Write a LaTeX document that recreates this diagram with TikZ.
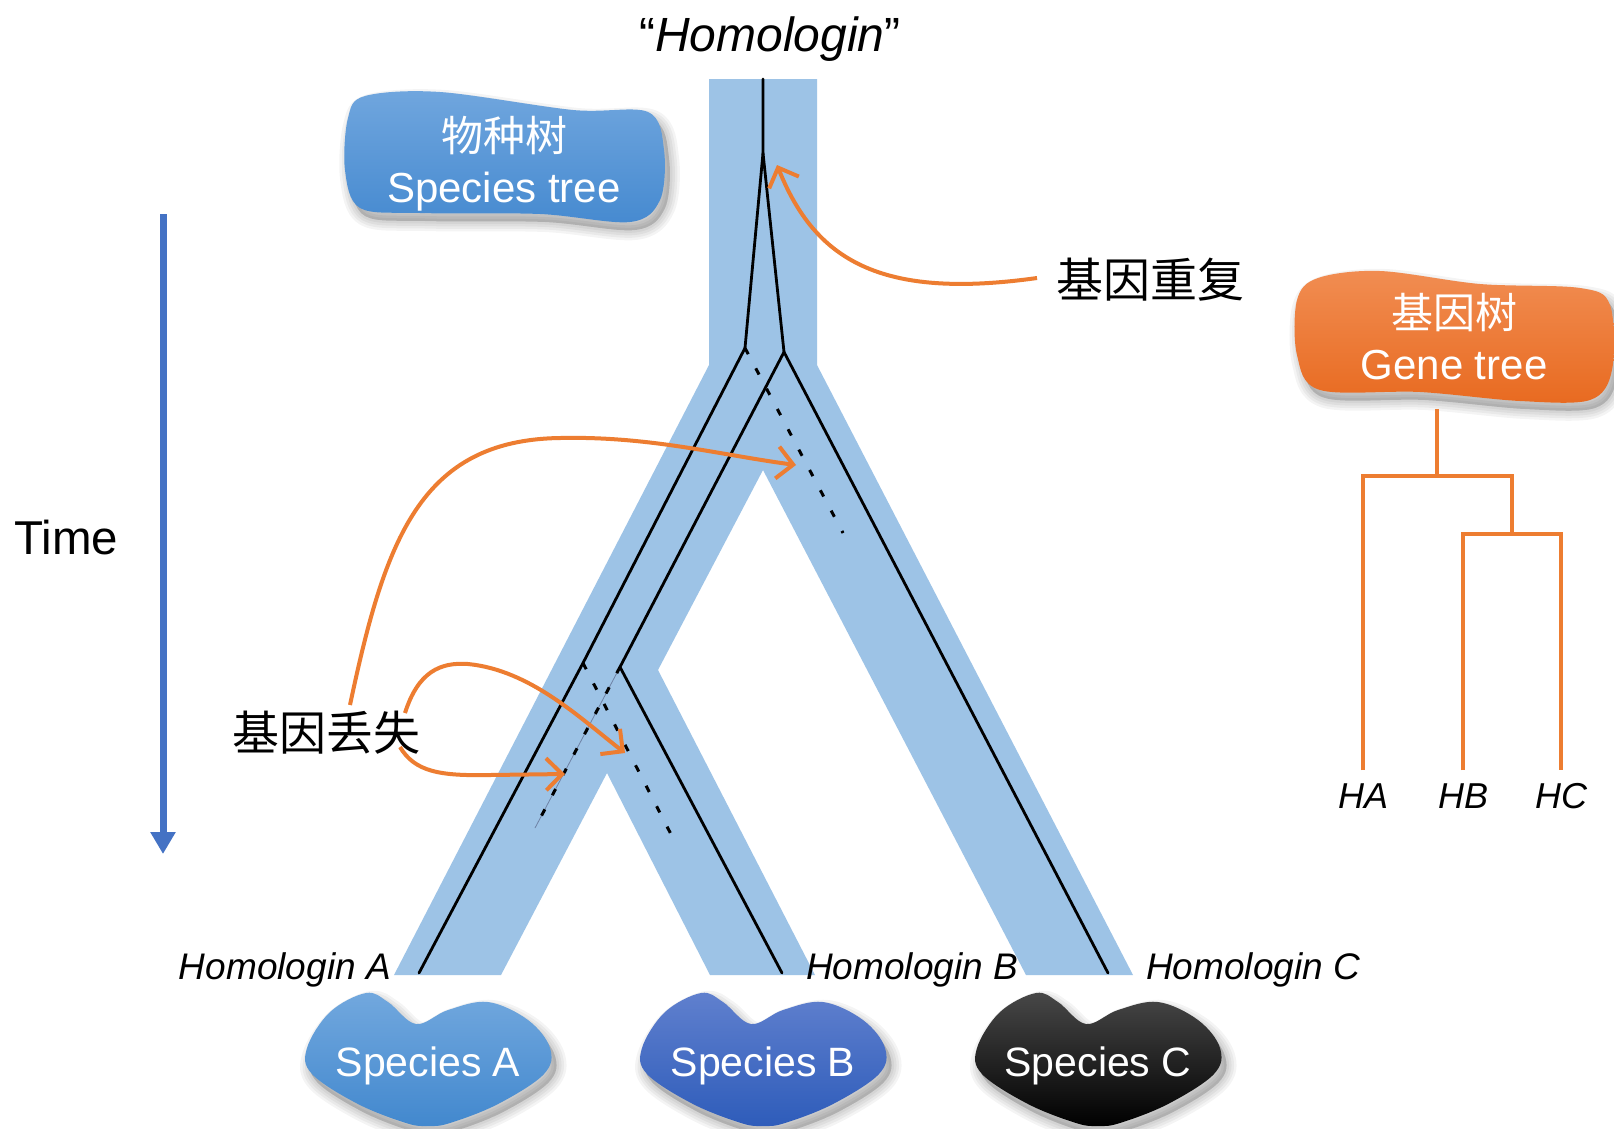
\documentclass[tikz,border=0pt]{standalone}
\usepackage{fontspec}
\setmainfont{Liberation Sans}
\newfontfamily\cjk{Noto Sans CJK SC}
\usetikzlibrary{arrows.meta}
\definecolor{bandc}{HTML}{9DC3E6}
\definecolor{orng}{HTML}{ED7D31}
\definecolor{tblue}{HTML}{4472C4}
\definecolor{sptop}{RGB}{112,166,222}
\definecolor{spbot}{RGB}{70,138,208}
\definecolor{gttop}{RGB}{241,141,82}
\definecolor{gtbot}{RGB}{232,106,32}
\definecolor{aTop}{RGB}{114,168,222}
\definecolor{aBot}{RGB}{66,136,206}
\definecolor{bTop}{RGB}{96,128,206}
\definecolor{bBot}{RGB}{46,92,186}
\definecolor{cTop}{RGB}{72,72,72}
\definecolor{cBot}{RGB}{0,0,0}
\newcommand\myfs[1]{\fontsize{#1}{#1}\selectfont}
\newcommand\sptreepath{plot[smooth cycle,tension=0.55] coordinates {(365,96) (440,92) (573,110) (648,112) (664,150) (660,200) (630,222) (540,214) (420,213) (360,208) (345,170) (348,118)}}
\newcommand\gtreepath{plot[smooth cycle,tension=0.55] coordinates {(1318,278) (1380,271) (1480,284) (1580,288) (1610,305) (1612,370) (1590,400) (1520,401) (1420,392) (1320,390) (1297,355) (1297,300)}}
\newcommand\heartpath{plot[smooth cycle,tension=0.6] coordinates {(-121,-12) (-98,-48) (-62,-67) (-40,-58) (-12,-36) (20,-50) (60,-58) (100,-40) (122,-12) (116,14) (70,44) (22,63) (0,66) (-22,63) (-70,44) (-116,14)}}
\newcommand\softshadow[1]{%
  \foreach \w in {20,15,10,5}{%
    \filldraw[black, opacity=0.045, line width=\w, line join=round, shift={(5,8)}] #1;}}
\newcommand\speciesblob[5]{%
  \begin{scope}[shift={(#1,1060)}]
    \softshadow{\heartpath}
    \shade[top color=#2, bottom color=#3] \heartpath;
  \end{scope}
  \node[spl] (#4) at (#1,1076) {#5};}

\begin{document}
\begin{tikzpicture}[x=1pt,y=-1pt,
  gene/.style={line width=2.8, black, line cap=round},
  lost/.style={line width=3, black, dash pattern=on 7 off 16},
  oarr/.style={draw=orng, line width=4, -{Straight Barb[length=16,width=32]}},
  gt/.style={draw=orng, line width=4},
  hl/.style={font={\myfs{37}\itshape}, inner sep=0},
  wt/.style={font={\myfs{42}}, text=white, inner sep=0, anchor=base},
  spl/.style={font={\myfs{41}}, text=white, inner sep=0, anchor=base},
  cjkl/.style={font={\myfs{47}\cjk}, inner sep=0, anchor=base}
]
\fill[white] (0,0) rectangle (1614,1128);
\useasboundingbox (0,0) rectangle (1614,1128);

% species tree band
\fill[bandc] (709,79) -- (817,79) -- (817,365) -- (1133,975) -- (1026,975) -- (763,470)
  -- (658,670) -- (815,975) -- (710,975) -- (607,773) -- (501,975) -- (394,975) -- (709,365) -- cycle;

% gene tree inside the band
\coordinate (top) at (763,79);
\coordinate (gdup) at (763,153);
\coordinate (j1) at (745,348);
\coordinate (j2) at (784,352);
\coordinate (k1) at (583,663);
\coordinate (k2) at (620,667);
\coordinate (eA) at (419,973);
\coordinate (eB) at (782,973);
\coordinate (eC) at (1108,973);
\coordinate (lC) at (843,533);
\coordinate (lB) at (676,844);
\coordinate (lA) at (535,828);

\draw[line width=0.8, color={rgb,255:red,110;green,130;blue,165}] (k2) -- (lA);
\draw[gene] (top) -- (gdup) -- (j1);
\draw[gene] (j1) -- (k1);
\draw[gene] (k1) -- (eA);
\draw[gene] (gdup) -- (j2);
\draw[gene] (j2) -- (eC);
\draw[gene] (j2) -- (k2);
\draw[gene] (k2) -- (eB);
\draw[lost] (j1) -- (lC);
\draw[lost] (k1) -- (lB);
\draw[lost] (k2) -- (lA);

% labels
\node[anchor=base, font={\myfs{48}}, inner sep=0] (title) at (770,51) {“\textit{Homologin}”};
\node[hl, anchor=base east] (hA) at (391,979) {Homologin A};
\node[hl, anchor=base west] (hB) at (806,979) {Homologin B};
\node[hl, anchor=base west] (hC) at (1146,979) {Homologin C};
\node[anchor=base west, font={\myfs{47.5}}, inner sep=0] (time) at (14,554) {Time};
\node[cjkl] (dupl) at (1150,297) {基因重复};
\node[cjkl] (loss) at (326,750) {基因丢失};

% time arrow
\coordinate (t0) at (163,214);
\coordinate (t1) at (163,854);
\draw[tblue, line width=7, -{Triangle[length=22,width=24]}] (t0) -- (t1);

% orange annotation arrows
\coordinate (sdup) at (1037,278);
\coordinate (tdup) at (777,165);
\coordinate (s1) at (350,705);
\coordinate (s2) at (405,713);
\coordinate (s3) at (400,747);
\coordinate (tC) at (796,465);
\coordinate (tB) at (625,753);
\coordinate (tA) at (565,774);
\draw[oarr] (sdup) .. controls (880,300) and (815,260) .. (tdup);
\draw[oarr] (s1) .. controls (385,540) and (420,440) .. (560,438) .. controls (650,436) and (720,455) .. (tC);
\draw[oarr] (s2) .. controls (418,672) and (440,662) .. (468,664) .. controls (530,670) and (580,718) .. (tB);
\draw[oarr] (s3) .. controls (415,772) and (440,776) .. (490,775) -- (tA);

% species tree blob
\softshadow{\sptreepath}
\shade[top color=sptop, bottom color=spbot] \sptreepath;
\node[wt] (stcn) at (504,151) {\cjk 物种树};
\node[wt] (sten) at (504,202) {Species tree};

% gene tree blob
\softshadow{\gtreepath}
\shade[top color=gttop, bottom color=gtbot] \gtreepath;
\node[wt] (gtcn) at (1454,328) {\cjk 基因树};
\node[wt] (gten) at (1454,379) {Gene tree};

% gene tree (cladogram)
\node[hl, font={\myfs{36}\itshape}, anchor=base] (HA) at (1363,808) {HA};
\node[hl, font={\myfs{36}\itshape}, anchor=base] (HB) at (1463,808) {HB};
\node[hl, font={\myfs{36}\itshape}, anchor=base] (HC) at (1561,808) {HC};
\coordinate (g0) at (1437,409);
\coordinate (g1) at (1437,476);
\coordinate (gL) at (1363,476);
\coordinate (gR) at (1512,476);
\coordinate (g2) at (1512,534);
\coordinate (gBL) at (1463,534);
\coordinate (gBR) at (1561,534);
\draw[gt] (g0) -- (g1);
\draw[gt] ([yshift=13pt]HA.north) -- (gL) -- (gR) -- (g2);
\draw[gt] ([yshift=13pt]HB.north) -- (gBL) -- (gBR) -- ([yshift=13pt]HC.north);

% species blobs
\speciesblob{428}{aTop}{aBot}{spA}{Species A}
\speciesblob{763}{bTop}{bBot}{spB}{Species B}
\speciesblob{1098}{cTop}{cBot}{spC}{Species C}
\end{tikzpicture}
\end{document}
